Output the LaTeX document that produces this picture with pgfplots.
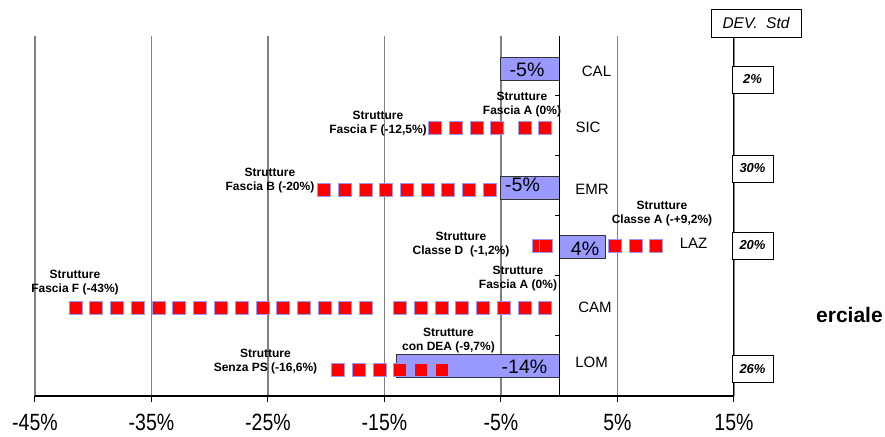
\documentclass[border=0pt]{standalone}
\usepackage{pgfplots}
\pgfplotsset{compat=1.18}
\usepackage{fontspec}
\setmainfont{Liberation Sans}
\newfontfamily\narrowsans[FakeStretch=0.83]{Liberation Sans}

\definecolor{barfill}{HTML}{9999FF}
\definecolor{barline}{HTML}{333333}
\definecolor{sqfill}{HTML}{FF0000}
\definecolor{sqline}{HTML}{9999FF}
\definecolor{gridgray}{HTML}{808080}

% per-region structure markers (x in %, y = row position)
\pgfplotstableread{
x y
-10.66 4.472
-8.88 4.472
-7.08 4.472
-5.34 4.472
-2.94 4.472
-1.19 4.472
}\sicmarks
\pgfplotstableread{
x y
-20.19 3.433
-18.39 3.433
-16.58 3.433
-14.87 3.433
-13.07 3.433
-11.26 3.433
-9.55 3.433
-7.74 3.433
-5.94 3.433
}\emrmarks
\pgfplotstableread{
x y
-1.78 2.508
-1.18 2.508
4.79 2.508
6.57 2.508
8.31 2.508
}\lazmarks
\pgfplotstableread{
x y
-41.48 1.472
-39.76 1.472
-37.96 1.472
-36.15 1.472
-34.35 1.472
-32.63 1.472
-30.83 1.472
-29.03 1.472
-27.22 1.472
-25.42 1.472
-23.70 1.472
-21.91 1.472
-20.10 1.472
-18.39 1.472
-16.58 1.472
-13.67 1.472
-11.86 1.472
-10.06 1.472
-8.34 1.472
-6.54 1.472
-4.74 1.472
-2.94 1.472
-1.19 1.472
}\cammarks
\pgfplotstableread{
x y
-18.99 0.433
-17.18 0.433
-15.38 0.433
-13.67 0.433
-11.86 0.433
-10.06 0.433
}\lommarks

\begin{document}
\begin{tikzpicture}
\useasboundingbox (0,0) rectangle (885bp,437bp);
\begin{axis}[
  at={(34.95bp,41bp)}, anchor=south west,
  width=699bp, height=360bp, scale only axis,
  xmin=-45, xmax=15, ymin=0, ymax=6,
  clip=false,
  axis x line*=bottom, hide y axis,
  x axis line style={black, line width=1.1bp},
  xtick={-45,-35,-25,-15,-5,5,15},
  xticklabels={-45\%,-35\%,-25\%,-15\%,-5\%,5\%,15\%},
  xtick pos=bottom, tick align=outside,
  major tick length=6bp,
  every tick/.style={black, line width=1bp},
  xticklabel style={font=\narrowsans\fontsize{23.5bp}{26bp}\selectfont, inner sep=0pt, yshift=-12bp},
  xmajorgrids, grid style={gridgray, line width=1.3bp},
  ytick=\empty,
]
% mean variation per region
\addplot[xbar, bar width=23bp, bar shift=0pt, fill=barfill, draw=barline, line width=1bp]
  coordinates {(-5,5.442) (-5,3.467) (4,2.475) (-14,0.492)};

% zero line
\draw[black, line width=1.1bp] (axis cs:0,0) -- (axis cs:0,6);

\addplot[only marks, mark=square*, mark size=6.5bp, mark options={fill=sqfill, draw=sqline, line width=0.9bp}]
  table[x=x,y=y] {\sicmarks};
\addplot[only marks, mark=square*, mark size=6.5bp, mark options={fill=sqfill, draw=sqline, line width=0.9bp}]
  table[x=x,y=y] {\emrmarks};
\addplot[only marks, mark=square*, mark size=6.5bp, mark options={fill=sqfill, draw=sqline, line width=0.9bp}]
  table[x=x,y=y] {\lazmarks};
\addplot[only marks, mark=square*, mark size=6.5bp, mark options={fill=sqfill, draw=sqline, line width=0.9bp}]
  table[x=x,y=y] {\cammarks};
\addplot[only marks, mark=square*, mark size=6.5bp, mark options={fill=sqfill, draw=sqline, line width=0.9bp}]
  table[x=x,y=y] {\lommarks};
\end{axis}

% row separators on the zero line
\draw[black, line width=1bp] (559.2bp,101bp) -- (555bp,101bp);
\draw[black, line width=1bp] (559.2bp,161bp) -- (555bp,161bp);
\draw[black, line width=1bp] (559.2bp,221bp) -- (555bp,221bp);
\draw[black, line width=1bp] (559.2bp,281bp) -- (555bp,281bp);
\draw[black, line width=1bp] (559.2bp,341bp) -- (555bp,341bp);

% standard deviation column
\draw[black, line width=1bp] (733.95bp,400bp) -- (733.95bp,41bp);
\tikzset{devbox/.style={draw=black, fill=white, line width=0.9bp, minimum width=41bp, minimum height=27bp, inner sep=0pt,
  font=\fontsize{13bp}{15bp}\selectfont\bfseries\itshape}}
\node[draw=black, fill=white, line width=0.9bp, minimum width=90bp, minimum height=28bp, inner sep=0pt,
  font=\fontsize{15.5bp}{17bp}\selectfont\itshape] at (756bp,414bp) {DEV.~~Std};
\node[devbox] at (752.5bp,357.5bp) {2\%};
\node[devbox] at (752.5bp,268.5bp) {30\%};
\node[devbox] at (752.5bp,191.5bp) {20\%};
\node[devbox] at (752.5bp,68bp) {26\%};

% bar values
\tikzset{barlab/.style={font=\fontsize{19.5bp}{22bp}\selectfont, inner sep=0pt}}
\node[barlab] at (527bp,367bp) {-5\%};
\node[barlab] at (522.5bp,252bp) {-5\%};
\node[barlab] at (585bp,188.5bp) {4\%};
\node[barlab] at (524.5bp,70.5bp) {-14\%};

% region names
\tikzset{reg/.style={font=\fontsize{15bp}{17bp}\selectfont, inner sep=0pt}}
\node[reg] at (596.5bp,365.5bp) {CAL};
\node[reg] at (588bp,309.5bp) {SIC};
\node[reg] at (592bp,247.5bp) {EMR};
\node[reg] at (693.5bp,194bp) {LAZ};
\node[reg] at (595bp,130bp) {CAM};
\node[reg] at (591.5bp,74.5bp) {LOM};

% structure annotations
\tikzset{ann/.style={align=center, inner sep=0pt, font=\fontsize{12bp}{14bp}\selectfont\bfseries}}
\node[ann] at (378bp,313bp) {Strutture\\Fascia F (-12,5\%)};
\node[ann] at (522bp,332bp) {Strutture\\Fascia A (0\%)};
\node[ann] at (270bp,256bp) {Strutture\\Fascia B (-20\%)};
\node[ann] at (461bp,192bp) {Strutture\\Classe D~~(-1,2\%)};
\node[ann] at (662bp,223bp) {Strutture\\Classe A (-+9,2\%)};
\node[ann] at (75bp,154bp) {Strutture\\Fascia F (-43\%)};
\node[ann] at (518bp,158bp) {Strutture\\Fascia A (0\%)};
\node[ann] at (265.5bp,75bp) {Strutture\\Senza PS (-16,6\%)};
\node[ann] at (448.5bp,96bp) {Strutture\\con DEA (-9,7\%)};

\node[anchor=base west, inner sep=0pt, font=\fontsize{21bp}{24bp}\selectfont\bfseries] at (816bp,114bp) {erciale};
\end{tikzpicture}
\end{document}
